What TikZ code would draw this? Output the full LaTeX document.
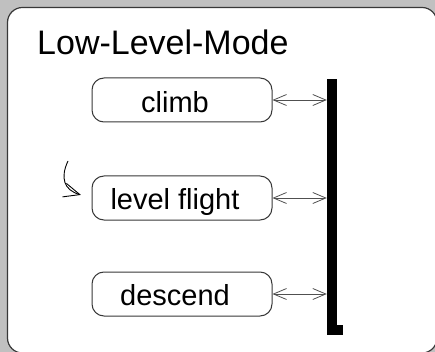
\documentclass[tikz,border=0pt]{standalone}
\usepackage{fontspec}
\setmainfont{Liberation Sans}
\usetikzlibrary{arrows.meta}
\definecolor{bggray}{HTML}{C0C0C0}
\definecolor{edgegray}{HTML}{383838}
\definecolor{linkgray}{HTML}{505050}
\tikzset{
  modebox/.style={draw=edgegray, line width=1.2pt, fill=white, rounded corners=15pt},
  statebox/.style={draw=edgegray, line width=1pt, rounded corners=12pt,
    minimum width=180pt, minimum height=44pt, inner sep=0pt},
  statelabel/.style={font=\fontsize{29}{32}\selectfont, anchor=base, inner sep=0pt},
  syncbar/.style={fill=black, inner sep=0pt},
  link/.style={draw=linkgray, line width=0.8pt,
    {Straight Barb[length=13pt,width=11pt]}-{Straight Barb[length=13pt,width=11pt]}},
  initarrow/.style={draw=black, line width=0.9pt, -{Straight Barb[length=16pt,width=14pt]}}
}
\begin{document}
\begin{tikzpicture}[x=1pt, y=-1pt]
  \useasboundingbox (0,0) rectangle (435,352);
  \clip (0,0) rectangle (435,352);
  \fill[bggray] (0,0) rectangle (435,352);

  % enclosing mode
  \draw[modebox] (7.5,7.5) rectangle (437,353);
  \node[anchor=base west, inner sep=0pt, font=\fontsize{34}{37}\selectfont]
    (title) at (37,55) {Low-Level-Mode};

  % states
  \node[statebox] (climb)   at (182,100) {};
  \node[statebox] (level)   at (182,198) {};
  \node[statebox] (descend) at (182,294) {};
  \node[statelabel] (climbtxt)   at (175,113) {climb};
  \node[statelabel] (leveltxt)   at (175,209) {level flight};
  \node[statelabel] (descendtxt) at (175,305) {descend};

  % synchronisation bar with its foot
  \node[syncbar, minimum width=10pt, minimum height=256pt] (bar) at (332,207) {};
  \node[syncbar, minimum width=16pt, minimum height=10pt] (foot) at (335,330) {};

  % links between states and bar
  \draw[link] (climb.east)   -- (climb.east -| bar.west);
  \draw[link] (level.east)   -- (level.east -| bar.west);
  \draw[link] (descend.east) -- (descend.east -| bar.west);

  % initial transition
  \coordinate (init) at (68,161);
  \draw[initarrow, shorten >=11pt] (init) .. controls (60,178) and (64,190) .. (level.west);
\end{tikzpicture}
\end{document}
